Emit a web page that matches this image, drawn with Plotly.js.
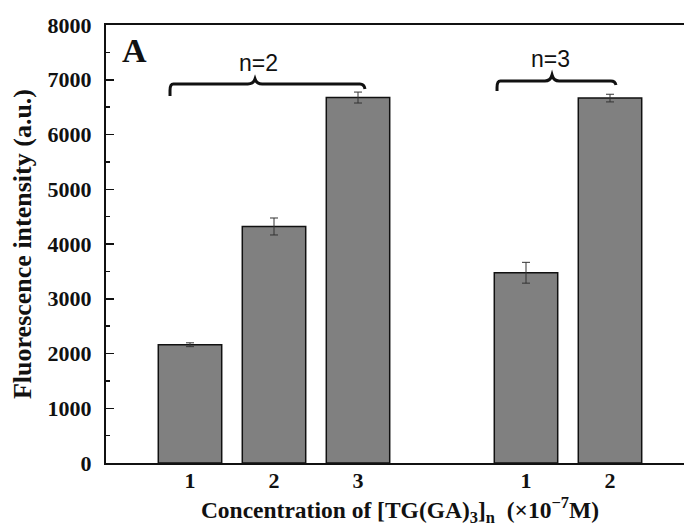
<!DOCTYPE html>
<html>
<head>
<meta charset="utf-8">
<script src="https://cdn.plot.ly/plotly-3.0.1.min.js"></script>
<style>
  html, body { margin: 0; padding: 0; background: #fff; overflow: hidden; }
  #chart { width: 700px; height: 529px; }
</style>
</head>
<body>
<div id="chart"></div>
<script>
// Bar slots: n=2 series at 1..3, n=3 series at 5..6 (one empty slot between groups)
const positions = [1, 2, 3, 5, 6];
const tickLabels = ["1", "2", "3", "1", "2"];
// Fluorescence intensity (a.u.) and standard deviation
const intensity = [2160, 4320, 6675, 3475, 6665];
const errors = [35, 155, 100, 190, 70];
const groupLabels = ["n=2", "n=3"];

const serif = "Liberation Serif, Times New Roman, serif";
const sans = "Liberation Sans, Arial, sans-serif";

// Curly brace over a group, drawn in data coordinates
function brace(x0, x1, xp, yLeft, yLine, yPeak, yRight) {
  const c = 0.04, d = 0.085;
  return [
    "M", x0, yLeft,
    "L", x0, yLine - 120,
    "Q", x0, yLine, x0 + c, yLine,
    "L", xp - d, yLine,
    "Q", xp - 0.02, yLine, xp, yPeak,
    "Q", xp + 0.02, yLine, xp + d, yLine,
    "L", x1 - c * 1.5, yLine,
    "Q", x1 - 0.01, yLine, x1, yRight
  ].join(" ");
}

const braceShapes = [
  brace(0.762, 3.083, 1.774, 6703, 6922, 7014, 6831),
  brace(4.655, 6.071, 5.310, 6795, 6977, 7087, 6904)
].map(p => ({
  type: "path", xref: "x", yref: "y", path: p,
  line: { color: "#111", width: 3 }, fillcolor: "rgba(0,0,0,0)"
}));

const trace = {
  type: "bar",
  x: positions,
  y: intensity,
  width: 0.755,
  marker: { color: "#808080", line: { color: "#111", width: 1.5 } },
  error_y: { type: "data", array: errors, visible: true, color: "#333", thickness: 1, width: 4 },
  hoverinfo: "none"
};

const layout = {
  width: 700,
  height: 529,
  margin: { l: 106, r: 6, t: 25, b: 66 },
  paper_bgcolor: "#fff",
  plot_bgcolor: "#fff",
  showlegend: false,
  bargap: 0,
  xaxis: {
    range: [0, 7],
    tickvals: positions,
    ticktext: tickLabels,
    ticks: "",
    showgrid: false,
    zeroline: false,
    showline: true,
    linecolor: "#111",
    linewidth: 2,
    mirror: true,
    ticklabelstandoff: -3,
    tickfont: { family: serif, size: 22, color: "#111", weight: "bold" },
    title: {
      text: "Concentration of [TG(GA)<sub>3</sub>]<sub>n</sub>  (×10<sup>−7</sup>M)",
      font: { family: serif, size: 23.5, color: "#111", weight: "bold" },
      standoff: 3
    }
  },
  yaxis: {
    range: [0, 8000],
    dtick: 1000,
    tick0: 0,
    ticks: "inside",
    ticklen: 8,
    tickwidth: 1.5,
    tickcolor: "#111",
    minor: { dtick: 500, ticks: "inside", ticklen: 4, tickwidth: 1.5, tickcolor: "#111" },
    showgrid: false,
    zeroline: false,
    showline: true,
    linecolor: "#111",
    linewidth: 2,
    mirror: true,
    ticklabelstandoff: 8,
    tickfont: { family: serif, size: 22, color: "#111", weight: "bold" },
    title: {
      text: "Fluorescence intensity (a.u.)",
      font: { family: serif, size: 26, color: "#111", weight: "bold" },
      standoff: 8
    }
  },
  shapes: braceShapes,
  annotations: [
    { text: groupLabels[0], x: 1.81, y: 7306, xref: "x", yref: "y", showarrow: false,
      xanchor: "center", yanchor: "middle", font: { family: sans, size: 23, color: "#111" } },
    { text: groupLabels[1], x: 5.286, y: 7379, xref: "x", yref: "y", showarrow: false,
      xanchor: "center", yanchor: "middle", font: { family: sans, size: 23, color: "#111" } },
    { text: "A", x: 0.049, y: 0.941, xref: "paper", yref: "paper", showarrow: false,
      xanchor: "center", yanchor: "middle", font: { family: serif, size: 34, color: "#111", weight: "bold" } }
  ]
};

Plotly.newPlot("chart", [trace], layout, { displayModeBar: false, staticPlot: true });
</script>
</body>
</html>
